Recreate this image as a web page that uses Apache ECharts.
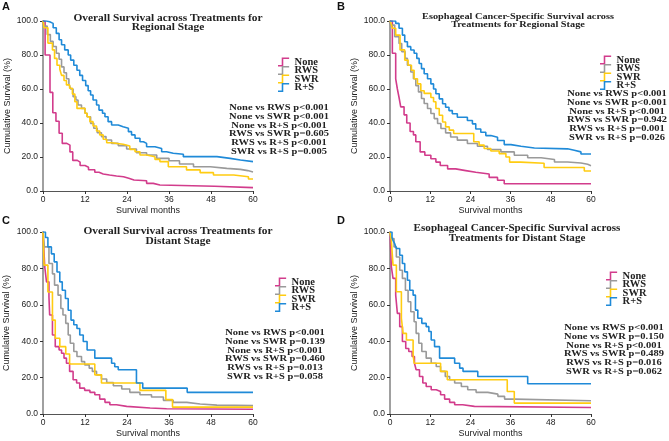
<!DOCTYPE html>
<html>
<head>
<meta charset="utf-8">
<script src="https://cdn.jsdelivr.net/npm/echarts@6/dist/echarts.min.js"></script>
<style>
  html, body { margin: 0; padding: 0; background: #fff; }
  #main { width: 669px; height: 441px; }
</style>
</head>
<body>
<div id="main"></div>
<script>
var groups = ['None', 'RWS', 'SWR', 'R+S'];
var colors = ['#d23c8c', '#9a9a9a', '#ffcc11', '#1f8ad8'];

// survival curves, [month, cumulative survival %]
// A: overall survival, regional stage
var aNone = [[0,100],[0.6,80],[2,58],[2.8,46],[3.7,41],[4.6,34],[5.5,28],[6.8,27],[7.7,23],[8.5,18],[9.8,17],[10.6,15],[12,14],[13,12.5],[14.8,11],[16,10],[17.2,9.4],[19,8.8],[21,8.4],[23,7.5],[24.5,6.5],[26,6],[29.6,4.5],[31.5,3.5],[33.4,2.8],[49,2],[60,2]];
var aRWS = [[0,100],[0.3,97],[1.2,92],[2.1,88],[2.9,85],[3.8,81],[4.6,77.5],[5.3,73],[6,69.6],[6.7,66],[7.4,63],[7.9,60],[8.6,55.5],[9.4,53.5],[10,50.6],[11,48.6],[12,45.7],[12.6,43.7],[13.6,39.8],[14.5,36.9],[15.5,34.3],[16.7,32],[18,30],[19.6,28],[21.5,26.7],[23.9,24.7],[26.7,22.5],[29.6,21.2],[32.5,19.2],[36,17.8],[39,15.9],[43,14.3],[47.8,13.3],[52.5,12.7],[56.4,12],[58.5,11.2],[60,11.2]];
var aSWR = [[0,100],[0.3,96],[1.4,87],[2.7,83],[3.3,78],[4,74],[4.8,71.6],[5.3,68],[6,65],[6.7,62.4],[7.6,60.4],[8.4,57],[9.1,52.5],[9.7,48.6],[12,45.7],[12.6,43.7],[13.4,40.8],[14.3,38.2],[15.3,35.3],[16.2,33],[17.2,30.4],[18.2,28.4],[19.6,27.5],[22.9,26.5],[24.8,24.5],[26.3,23.1],[27.7,21.2],[29.6,20.2],[32,18.6],[33.4,17.3],[35.8,14.3],[41,12.4],[44.9,10.8],[48.7,9.4],[54.5,8.4],[58.7,7.1],[60,7.1]];
var aRS = [[0,100],[1,99.6],[1.9,98.6],[2.9,96],[3.8,92.7],[4.6,89],[5.3,86],[6.2,83],[7.2,80],[7.9,77],[8.8,74],[9.7,71],[10.5,68],[11.3,65],[12.2,62],[12.9,59],[13.6,56.5],[14.3,53.5],[15.3,50.6],[16,47.6],[17,45.7],[17.7,43.7],[18.6,40.8],[19.6,38.8],[21.5,37.8],[22.9,36.9],[24.4,34.9],[25.3,33],[26.3,31],[27.7,29],[28.7,28],[29.6,26],[32,25],[33.9,23.1],[35.3,22.2],[37.2,21.6],[40.1,20.2],[49.7,19.2],[53.5,18.2],[56.4,17.3],[60,17.3]];

// B: esophageal cancer-specific survival, regional stage
var bNone = [[0,100],[0.7,81],[1.7,66],[2.2,60],[2.7,55],[3.2,49.5],[4.2,44.8],[5,40],[6,35],[7,33],[7.7,29],[9,23],[10.4,21],[12.2,19],[13.7,17],[15,15],[17.2,13],[19.6,12],[22.6,11],[25.6,10],[29.6,8],[32.1,6.3],[34.1,4.3],[60,4.3]];
var bRWS = [[0,100],[0.2,97.6],[1.4,90.8],[2.7,86.8],[3.5,82],[4.5,78],[5.2,74],[6.2,70],[7,66],[7.7,62],[8.5,58.3],[9.4,54.4],[10.2,51.5],[11.2,48.5],[12.2,45.6],[13.2,42.6],[14.2,39.7],[15.2,36.8],[16.6,34.2],[18.1,31.8],[20.1,29.9],[23.1,27.9],[26.1,26.3],[29.1,24.4],[33.1,23],[37.1,21],[41.1,19.6],[45.1,18.5],[49.1,17.1],[53,16.5],[57,15.7],[59,14.9],[60,14.9]];
var bSWR = [[0,100],[0.3,98.6],[0.7,95.7],[1.7,91.7],[3,83],[4.4,77],[5.4,74],[6.4,71],[7.2,66],[8.2,63],[9.2,59],[10.2,57.4],[12.2,55],[13,52.5],[13.7,48.5],[14.7,44.6],[15.7,40.6],[16.6,37.7],[17.7,35.8],[19,33.8],[25,29],[26.6,27],[28.1,25],[30.1,23.5],[32.6,22],[34.6,20],[35.7,17],[39,16.3],[46,13.8],[58,11.8],[60,11.8]];
var bRS = [[0,100],[1.7,98.6],[2.7,95.7],[3.7,91.7],[4.4,87.8],[5.2,84.9],[6.2,82.9],[7.2,81],[8,78],[8.7,75],[9.4,72],[10.2,69],[11.2,66],[12.2,63],[13,60],[13.7,57.2],[14.7,54.2],[15.7,51.3],[16.6,49.3],[17.6,47.3],[18.6,45.4],[20.1,43.4],[23.1,41.5],[24.6,39.5],[25.6,36.5],[27.1,34.6],[28.6,32.6],[30.1,31.6],[32.1,29.7],[34.1,27.3],[36.1,26.3],[39.1,25.3],[43.1,24.8],[53,24],[55,23],[57,21.8],[60,21.8]];

// C: overall survival, distant stage
var cNone = [[0,100],[0.5,80.8],[1,72.6],[1.7,64.4],[1.9,54.4],[2.7,43.4],[3.5,37],[4.6,35.2],[5.3,33.4],[6,30.7],[6.7,27.9],[7.6,23.4],[8.6,18.8],[9.6,17],[10.5,14.2],[11.9,13],[13.4,11.9],[14.8,10.6],[16.2,8.2],[17.7,6.4],[19.1,5.1],[21,4.2],[23.9,3.3],[30.6,2.9],[35.3,2.6],[60,2.6]];
var cRWS = [[0,100],[0.4,91.8],[1.7,82.7],[2.7,77],[3.3,70.8],[4.3,65.3],[5.1,58],[5.7,54.4],[6.5,49.8],[7.2,43.4],[7.8,38.9],[8.8,34.3],[9.7,31.6],[11,28.8],[11.9,27],[13.2,25.2],[14.1,23.4],[15.3,21.5],[16.7,19.2],[18.2,17.3],[20.1,15.5],[22.5,13.7],[24.8,11.9],[27.7,10.6],[31,9.3],[34.4,7.5],[37.2,6.4],[41.1,5.5],[44.9,4.9],[49.7,4.6],[60,4.6]];
var cSWR = [[0,100],[0.3,81.8],[1.4,67],[2.7,51.6],[3.5,41.6],[4.8,37],[6.5,33],[7.6,27.5],[14.8,21.5],[16.7,17],[27.7,13],[35.1,7.9],[37,3.8],[60,3.8]];
var cRS = [[0,100],[0.7,97],[1.4,91.8],[2.4,88],[3.2,83.6],[4,78],[4.8,72.6],[5.5,68],[6.4,63.5],[7.2,57],[8,51.6],[8.8,49],[9.7,47],[10.5,43.4],[11.5,39.8],[12.6,35.2],[14.8,30.7],[19.6,27.9],[20.5,26],[21.5,24.3],[26.7,17],[28.5,14.2],[41.2,11.9],[60,11.9]];

// D: esophageal cancer-specific survival, distant stage
var dNone = [[0,100],[0.4,81],[0.9,74.5],[1.7,65.3],[2.2,55.3],[2.9,48],[3.7,39.8],[4.7,36],[5.6,34.3],[6.6,31.6],[7.3,27.9],[7.8,24.3],[8.8,20.6],[9.8,17],[10.8,15.1],[12.3,13.3],[13.8,12.4],[15.1,10.6],[16.3,8.2],[17.8,6.4],[19.3,5.1],[21.7,4.2],[25.2,3.6],[60,3.6]];
var dRWS = [[0,100],[0.2,96.4],[1.2,91.8],[1.9,86.3],[2.9,79],[3.7,74.5],[4.6,68],[5.4,61.7],[6.2,56.2],[7.2,50.7],[7.8,44.3],[8.6,38.9],[9.5,34.3],[10.8,30.7],[12.3,27.9],[13.8,26.1],[15.1,23.4],[16.5,20.6],[17.8,18.8],[19.3,17],[21.3,15.1],[23.2,13.3],[25.7,11.9],[29.2,10.9],[32.2,9.7],[34.2,8.2],[37.1,7.3],[60,7.3]];
var dSWR = [[0,100],[0.4,95.4],[0.9,81.8],[1.9,67.2],[3.4,52.6],[3.9,44.3],[4.9,40.7],[6.9,32.5],[7.2,27.9],[15.1,23.4],[17.1,18.8],[35,12.4],[37.1,6],[60,6]];
var dRS = [[0,100],[0.6,97],[0.9,95.4],[1.4,93.6],[1.9,90.9],[2.9,87.2],[3.7,82.7],[4.4,78.1],[5.2,73.5],[5.9,68],[6.9,65.3],[7.6,57.1],[8.3,52.6],[9.5,49.8],[10.8,48],[11.6,45.3],[12.3,40.7],[13.3,37],[14.8,30.7],[19.3,27.9],[20.8,25.2],[21.8,23.4],[26.2,20.6],[41.1,16.6],[60,16.6]];

var titleA = 'Overall Survival across Treatments for\nRegional Stage';
var titleB = 'Esophageal Cancer-Specific Survival across\nTreatments for Regional Stage';
var titleC = 'Overall Survival across Treatments for\nDistant Stage';
var titleD = 'Esophageal Cancer-Specific Survival across\nTreatments for Distant Stage';

var pA = ['None vs RWS p<0.001', 'None vs SWR p<0.001', 'None vs R+S p<0.001', 'RWS vs SWR p=0.605', 'RWS vs R+S p<0.001', 'SWR vs R+S p=0.005'];
var pB = ['None vs RWS p<0.001', 'None vs SWR p<0.001', 'None vs R+S p<0.001', 'RWS vs SWR p=0.942', 'RWS vs R+S p=0.001', 'SWR vs R+S p=0.026'];
var pC = ['None vs RWS p<0.001', 'None vs SWR p=0.139', 'None vs R+S p<0.001', 'RWS vs SWR p=0.460', 'RWS vs R+S p=0.013', 'SWR vs R+S p=0.058'];
var pD = ['None vs RWS p<0.001', 'None vs SWR p=0.150', 'None vs R+S p<0.001', 'RWS vs SWR p=0.489', 'RWS vs R+S p=0.016', 'SWR vs R+S p=0.062'];

var panels = [
  { letter: 'A', curves: [aNone, aRWS, aSWR, aRS], title: titleA, pvals: pA,
    grid: { left: 43, right: 416, top: 21, bottom: 250 }, yGap: 31,
    letterPos: [2, 1], titlePos: [168, 14], titleSize: 11.4, titleScale: 0.82,
    legendPos: [278, 56.5], pPos: [279, 103.5] },
  { letter: 'B', curves: [bNone, bRWS, bSWR, bRS], title: titleB, pvals: pB,
    grid: { left: 390, right: 78, top: 21, bottom: 250 }, yGap: 31,
    letterPos: [337, 1], titlePos: [518, 12.5], titleSize: 10.3, titleScale: 0.8,
    legendPos: [600, 54.5], pPos: [617, 89.5] },
  { letter: 'C', curves: [cNone, cRWS, cSWR, cRS], title: titleC, pvals: pC,
    grid: { left: 43, right: 416, top: 232, bottom: 27 }, yGap: 32,
    letterPos: [2, 215], titlePos: [178, 226], titleSize: 11.4, titleScale: 0.88,
    legendPos: [275, 276.5], pPos: [275, 328.5] },
  { letter: 'D', curves: [dNone, dRWS, dSWR, dRS], title: titleD, pvals: pD,
    grid: { left: 390, right: 78, top: 232, bottom: 27 }, yGap: 31,
    letterPos: [337, 215], titlePos: [517, 223], titleSize: 11.1, titleScale: 0.9,
    legendPos: [606, 270.5], pPos: [614, 323.5] }
];

var stepIcon = 'path://M0,8 L4,8 L4,0 L12,0 L12,1.7 L5.7,1.7 L5.7,9.7 L0,9.7 Z';
var serif = '"Liberation Serif", "Times New Roman", serif';
var sans = '"Liberation Sans", Arial, sans-serif';

var grids = [], xAxes = [], yAxes = [], legends = [], series = [], graphics = [];

panels.forEach(function (p, i) {
  grids.push(p.grid);
  xAxes.push({
    type: 'value', gridIndex: i, min: 0, max: 60, interval: 12,
    splitLine: { show: false },
    axisLine: { show: true, onZero: false, lineStyle: { color: '#555', width: 1 } },
    axisTick: { show: true, length: 3, lineStyle: { color: '#333' } },
    axisLabel: { fontSize: 8.5, color: '#222', margin: 4, fontFamily: sans },
    name: 'Survival months', nameLocation: 'middle', nameGap: 15,
    nameTextStyle: { fontSize: 9, color: '#222', fontFamily: sans }
  });
  yAxes.push({
    type: 'value', gridIndex: i, min: 0, max: 100, interval: 20,
    splitLine: { show: false },
    axisLine: { show: true, lineStyle: { color: '#a0a0a0', width: 2 } },
    axisTick: { show: true, length: 3, lineStyle: { color: '#333' } },
    axisLabel: { fontSize: 8.5, color: '#222', margin: 5, fontFamily: sans,
      formatter: function (v) { return v.toFixed(1); } },
    name: 'Cumulative Survival (%)', nameLocation: 'middle', nameGap: p.yGap,
    nameTextStyle: { fontSize: 9, color: '#222', fontFamily: sans }
  });
  legends.push({
    data: groups, orient: 'vertical', left: p.legendPos[0], top: p.legendPos[1],
    padding: 0, itemWidth: 12, itemHeight: 9, itemGap: -2.5, icon: stepIcon,
    selectedMode: false,
    textStyle: { fontFamily: serif, fontWeight: 'bold', fontSize: 10.5, color: '#222' }
  });
  p.curves.forEach(function (curve, k) {
    series.push({
      type: 'line', name: groups[k], xAxisIndex: i, yAxisIndex: i,
      data: curve, step: 'end', symbol: 'none', showSymbol: false, silent: true,
      lineStyle: { width: 1.6, color: colors[k] },
      itemStyle: { color: colors[k] }
    });
  });
  graphics.push({
    type: 'text', x: p.letterPos[0], y: p.letterPos[1], silent: true,
    style: { text: p.letter, fontSize: 11, fontWeight: 'bold', fontFamily: sans, fill: '#111',
      align: 'left', verticalAlign: 'top', textAlign: 'left', textVerticalAlign: 'top' }
  });
  graphics.push({
    type: 'text', x: p.titlePos[0], y: p.titlePos[1], scaleY: p.titleScale, silent: true,
    style: { text: p.title, fontSize: p.titleSize, fontWeight: 'bold', fontFamily: serif, fill: '#222',
      lineHeight: p.titleSize, align: 'center', verticalAlign: 'top', textAlign: 'center', textVerticalAlign: 'top' }
  });
  graphics.push({
    type: 'text', x: p.pPos[0], y: p.pPos[1], scaleY: 0.82, silent: true,
    style: { text: p.pvals.join('\n'), fontSize: 10.5, fontWeight: 'bold', fontFamily: serif, fill: '#222',
      lineHeight: 10.7, align: 'center', verticalAlign: 'top', textAlign: 'center', textVerticalAlign: 'top' }
  });
});

var chart = echarts.init(document.getElementById('main'));
chart.setOption({
  animation: false,
  backgroundColor: '#fff',
  grid: grids,
  xAxis: xAxes,
  yAxis: yAxes,
  legend: legends,
  series: series,
  graphic: graphics
});
</script>
</body>
</html>
